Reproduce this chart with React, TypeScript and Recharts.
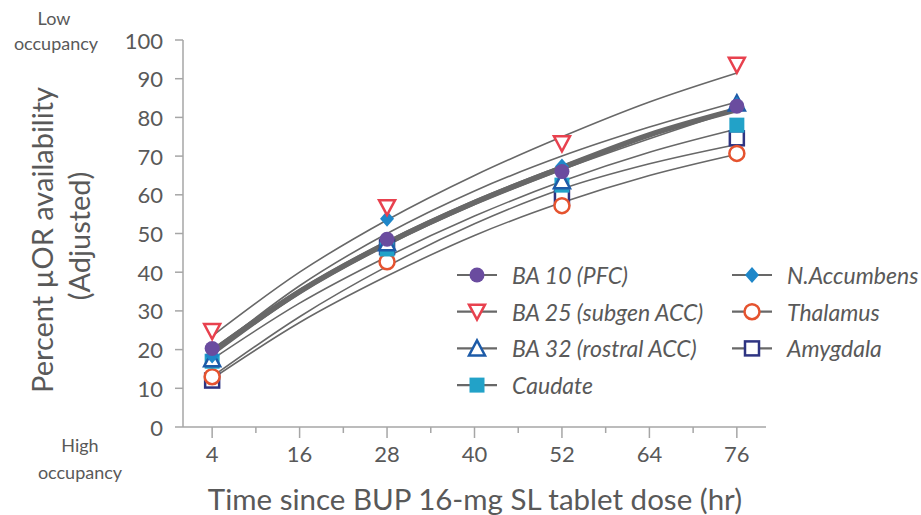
import React from "react";
import { ComposedChart, Line, Scatter, XAxis, YAxis } from "recharts";

// ---- data ----
const hours = [4, 28, 52, 76];
const fitHours = [4, 16, 28, 40, 52, 64, 76];
const xTicks = [4, 10, 16, 22, 28, 34, 40, 46, 52, 58, 64, 70, 76];
const xLabelTicks = [4, 16, 28, 40, 52, 64, 76];
const yTicks = [0, 10, 20, 30, 40, 50, 60, 70, 80, 90, 100];

const ba10 = [20.3, 48.5, 66.0, 82.9];
const ba25 = [24.8, 56.8, 73.3, 93.6];
const ba32 = [17.5, 47.5, 63.5, 83.6];
const caudate = [17.0, 46.0, 62.5, 78.0];
const nacc = [18.5, 53.8, 67.3, 83.3];
const thalamus = [13.0, 42.7, 57.2, 70.7];
const amygdala = [12.0, 46.5, 59.3, 74.6];

const ba25Fit = [23.5, 40, 53.5, 65, 75, 84, 91.5];
const naccFit = [19.5, 36.5, 50, 61, 70, 77.5, 84];
const meanFit = [19.5, 35, 47.5, 58, 67, 75.5, 82];
const ba10Fit = [20, 35.5, 48, 58.5, 67.5, 75.5, 82.5];
const ba32Fit = [18.5, 34.5, 47, 57.5, 66.5, 74.5, 82];
const caudateFit = [17.5, 32, 44, 54.5, 63.5, 71, 77];
const amygdalaFit = [13, 28.5, 41.5, 52.5, 61.5, 68, 73];
const thalamusFit = [12.5, 27, 39, 49.5, 58, 65, 70.5];

const FONT = "Lato, 'Open Sans', sans-serif";
const TEXT = "#595959";
const AXIS = "#A6A6A6";
const LINE = "#686868";

const pts = (ys: number[], xs: number[]) => xs.map((x, i) => ({ x, y: ys[i] }));

// ---- markers ----
const Marker = ({ kind, cx, cy }: { kind: string; cx: number; cy: number }) => {
  switch (kind) {
    case "ba10":
      return <circle cx={cx} cy={cy} r={7.5} fill="#6A4C9F" />;
    case "ba25":
      return (
        <polygon
          points={`${cx - 8},${cy - 7} ${cx + 8},${cy - 7} ${cx},${cy + 8}`}
          fill="#fff"
          stroke="#E8414E"
          strokeWidth={2.5}
          strokeLinejoin="miter"
        />
      );
    case "ba32":
      return (
        <polygon
          points={`${cx - 8},${cy + 7} ${cx + 8},${cy + 7} ${cx},${cy - 8}`}
          fill="#fff"
          stroke="#1D5BA8"
          strokeWidth={2.5}
        />
      );
    case "caudate":
      return <rect x={cx - 7.5} y={cy - 7.5} width={15} height={15} fill="#22A2C8" />;
    case "nacc":
      return (
        <polygon
          points={`${cx},${cy - 8} ${cx + 7},${cy} ${cx},${cy + 8} ${cx - 7},${cy}`}
          fill="#1F87C9"
        />
      );
    case "thalamus":
      return <circle cx={cx} cy={cy} r={7.5} fill="#fff" stroke="#E5532F" strokeWidth={2.5} />;
    case "amygdala":
      return (
        <rect x={cx - 7} y={cy - 7} width={14} height={14} fill="#fff" stroke="#2E3482" strokeWidth={2.5} />
      );
    default:
      return null;
  }
};

const series = [
  { key: "amygdala", name: "Amygdala", values: amygdala },
  { key: "thalamus", name: "Thalamus", values: thalamus },
  { key: "caudate", name: "Caudate", values: caudate },
  { key: "ba32", name: "BA 32 (rostral ACC)", values: ba32 },
  { key: "nacc", name: "N.Accumbens", values: nacc },
  { key: "ba10", name: "BA 10 (PFC)", values: ba10 },
  { key: "ba25", name: "BA 25 (subgen ACC)", values: ba25 },
];

const fits = [
  { key: "f25", values: ba25Fit, w: 1.6 },
  { key: "fn", values: naccFit, w: 1.6 },
  { key: "f10", values: ba10Fit, w: 1.6 },
  { key: "f32", values: ba32Fit, w: 1.6 },
  { key: "fm", values: meanFit, w: 5.5 },
  { key: "fc", values: caudateFit, w: 1.6 },
  { key: "fa", values: amygdalaFit, w: 1.6 },
  { key: "ft", values: thalamusFit, w: 1.6 },
];

const legendCol1 = ["ba10", "ba25", "ba32", "caudate"];
const legendCol2 = ["nacc", "thalamus", "amygdala"];

const XTick = (props: any) => {
  const { x, y, payload } = props;
  const major = xLabelTicks.includes(payload.value);
  return (
    <g>
      <line x1={x} y1={y} x2={x} y2={y + (major ? 11 : 6)} stroke={AXIS} strokeWidth={1.5} />
      {major && (
        <text x={x} y={y + 26} textAnchor="middle" dominantBaseline="central" fill={TEXT} fontSize={22} fontFamily={FONT}>
          {payload.value}
        </text>
      )}
    </g>
  );
};

const YTick = (props: any) => {
  const { x, y, payload } = props;
  return (
    <g>
      <line x1={x - 8} y1={y} x2={x} y2={y} stroke={AXIS} strokeWidth={1.5} />
      <text x={x - 20} y={y} textAnchor="end" dominantBaseline="central" fill={TEXT} fontSize={22} fontFamily={FONT}>
        {payload.value}
      </text>
    </g>
  );
};

const LegendItem = ({ kind, x, y }: { kind: string; x: number; y: number }) => {
  const s = series.find((d) => d.key === kind)!;
  return (
    <g>
      <line x1={x} y1={y} x2={x + 40} y2={y} stroke={LINE} strokeWidth={2.2} />
      <Marker kind={kind} cx={x + 20} cy={y} />
      <text x={x + 55} y={y} dominantBaseline="central" fill={TEXT} fontSize={23} fontStyle="italic" fontFamily={FONT}>
        {s.name}
      </text>
    </g>
  );
};

export default function App() {
  return (
    <div style={{ position: "absolute", left: 0, top: 0, width: 921, height: 515, background: "#fff", overflow: "hidden" }}>
      <ComposedChart width={921} height={515} margin={{ top: 40, right: 155, bottom: 48, left: 0 }}>
        <XAxis
          type="number"
          dataKey="x"
          domain={[0, 80]}
          ticks={xTicks}
          interval={0}
          allowDataOverflow
          height={40}
          stroke={AXIS}
          strokeWidth={1.5}
          tickLine={false}
          tickSize={0}
          tickMargin={0}
          tick={<XTick />}
        />
        <YAxis
          type="number"
          dataKey="y"
          domain={[0, 100]}
          ticks={yTicks}
          interval={0}
          width={183}
          stroke={AXIS}
          strokeWidth={1.5}
          tickLine={false}
          tickSize={0}
          tickMargin={0}
          tick={<YTick />}
        />
        {fits.map((f) => (
          <Line
            key={f.key}
            data={pts(f.values, fitHours)}
            dataKey="y"
            type="monotone"
            stroke={LINE}
            strokeWidth={f.w}
            dot={false}
            activeDot={false}
            isAnimationActive={false}
          />
        ))}
        {series.map((s) => (
          <Scatter
            key={s.key}
            data={pts(s.values, hours)}
            dataKey="y"
            isAnimationActive={false}
            shape={(p: any) => <Marker kind={s.key} cx={p.cx} cy={p.cy} />}
          />
        ))}
      </ComposedChart>
      <svg width={921} height={515} style={{ position: "absolute", left: 0, top: 0, pointerEvents: "none" }}>
        <text x={54} y={18} textAnchor="middle" dominantBaseline="central" fill={TEXT} fontSize={18} fontFamily={FONT}>Low</text>
        <text x={56} y={43} textAnchor="middle" dominantBaseline="central" fill={TEXT} fontSize={18} fontFamily={FONT}>occupancy</text>
        <text x={80} y={445} textAnchor="middle" dominantBaseline="central" fill={TEXT} fontSize={18} fontFamily={FONT}>High</text>
        <text x={80} y={472} textAnchor="middle" dominantBaseline="central" fill={TEXT} fontSize={18} fontFamily={FONT}>occupancy</text>
        <text transform="translate(41,240) rotate(-90)" textAnchor="middle" dominantBaseline="central" fill={TEXT} fontSize={29} fontFamily={FONT}>
          Percent µOR availability
        </text>
        <text transform="translate(78,236) rotate(-90)" textAnchor="middle" dominantBaseline="central" fill={TEXT} fontSize={29} fontFamily={FONT}>
          (Adjusted)
        </text>
        <text x={475} y={498} textAnchor="middle" dominantBaseline="central" fill={TEXT} fontSize={29.5} fontFamily={FONT}>
          Time since BUP 16-mg SL tablet dose (hr)
        </text>
        {legendCol1.map((k, i) => (
          <LegendItem key={k} kind={k} x={457} y={275 + i * 36.7} />
        ))}
        {legendCol2.map((k, i) => (
          <LegendItem key={k} kind={k} x={732} y={275 + i * 36.7} />
        ))}
      </svg>
    </div>
  );
}
